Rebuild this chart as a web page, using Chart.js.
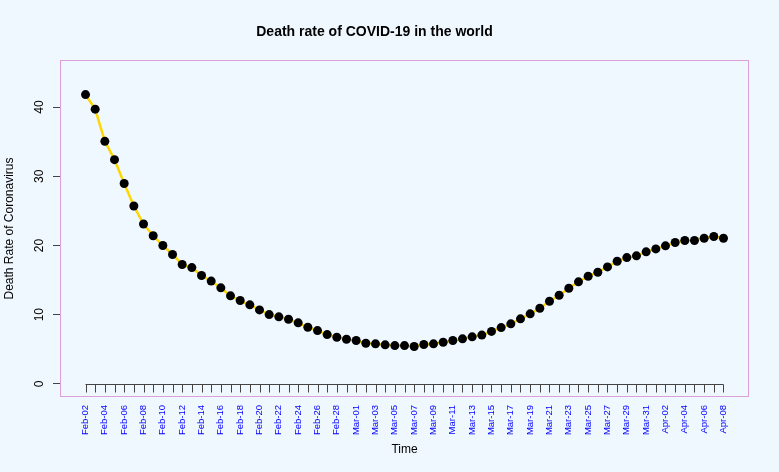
<!DOCTYPE html>
<html>
<head>
<meta charset="utf-8">
<script src="https://cdn.jsdelivr.net/npm/chart.js@4"></script>
<style>
  html, body { margin: 0; padding: 0; background: #F0F8FF; }
  canvas { display: block; }
</style>
</head>
<body>
<canvas id="myChart" width="779" height="472"></canvas>
<script>
const dates = [
  "Feb-02","Feb-03","Feb-04","Feb-05","Feb-06","Feb-07","Feb-08","Feb-09","Feb-10","Feb-11",
  "Feb-12","Feb-13","Feb-14","Feb-15","Feb-16","Feb-17","Feb-18","Feb-19","Feb-20","Feb-21",
  "Feb-22","Feb-23","Feb-24","Feb-25","Feb-26","Feb-27","Feb-28","Feb-29",
  "Mar-01","Mar-02","Mar-03","Mar-04","Mar-05","Mar-06","Mar-07","Mar-08","Mar-09","Mar-10",
  "Mar-11","Mar-12","Mar-13","Mar-14","Mar-15","Mar-16","Mar-17","Mar-18","Mar-19","Mar-20",
  "Mar-21","Mar-22","Mar-23","Mar-24","Mar-25","Mar-26","Mar-27","Mar-28","Mar-29","Mar-30",
  "Mar-31","Apr-01","Apr-02","Apr-03","Apr-04","Apr-05","Apr-06","Apr-07","Apr-08"
];

const deathRate = [
  41.8, 39.7, 35.05, 32.4, 28.95, 25.7, 23.1, 21.4, 20.0, 18.7,
  17.25, 16.8, 15.65, 14.85, 13.87, 12.72, 12.04, 11.42, 10.69, 10.01,
  9.68, 9.34, 8.82, 8.18, 7.70, 7.12, 6.73, 6.45,
  6.26, 5.87, 5.78, 5.64, 5.53, 5.53, 5.39, 5.68, 5.78, 6.01,
  6.26, 6.50, 6.79, 7.05, 7.58, 8.13, 8.67, 9.39, 10.12, 10.93,
  11.94, 12.80, 13.82, 14.74, 15.55, 16.13, 16.9, 17.72, 18.25, 18.5,
  19.08, 19.5, 19.94, 20.42, 20.71, 20.71, 21.04, 21.29, 21.04
];

const yTicks = [0, 10, 20, 30, 40];

Chart.defaults.font.family = "'Liberation Sans', Arial, sans-serif";
Chart.defaults.color = "#000";

// R-like extras: background, the time axis drawn at y = 0, plot box
const rStyle = {
  id: "rStyle",
  beforeDraw(chart) {
    const ctx = chart.ctx;
    ctx.save();
    ctx.fillStyle = "#F0F8FF";
    ctx.fillRect(0, 0, chart.width, chart.height);
    ctx.restore();
  },
  afterDraw(chart) {
    const ctx = chart.ctx;
    const x = chart.scales.x;
    const y = chart.scales.y;
    const y0 = Math.round(y.getPixelForValue(0)) + 0.5;
    ctx.save();
    ctx.strokeStyle = "#444";
    ctx.lineWidth = 1;
    ctx.beginPath();
    ctx.moveTo(x.getPixelForValue(0), y0);
    ctx.lineTo(x.getPixelForValue(dates.length - 1), y0);
    for (let i = 0; i < dates.length; i++) {
      const px = Math.round(x.getPixelForValue(i)) + 0.5;
      ctx.moveTo(px, y0);
      ctx.lineTo(px, y0 + 8);
    }
    ctx.stroke();

    const a = chart.chartArea;
    ctx.strokeStyle = "#DDA0DD";
    ctx.strokeRect(Math.round(a.left) + 0.5, Math.round(a.top) + 0.5,
      Math.round(a.right - a.left) - 1, Math.round(a.bottom - a.top) - 1);
    ctx.restore();
  }
};

new Chart(document.getElementById("myChart").getContext("2d"), {
  type: "line",
  data: {
    datasets: [{
      data: deathRate.map((v, i) => ({ x: i, y: v })),
      borderColor: "#FFD700",
      borderWidth: 2.5,
      tension: 0,
      pointRadius: 4.5,
      pointBackgroundColor: "#000",
      pointBorderColor: "#000",
      pointBorderWidth: 0
    }]
  },
  options: {
    responsive: false,
    animation: false,
    devicePixelRatio: 1,
    layout: { padding: { left: 0, right: 30, top: 0, bottom: 0 } },
    plugins: {
      legend: { display: false },
      tooltip: { enabled: false },
      title: {
        display: true,
        text: "Death rate of COVID-19 in the world",
        font: { size: 14, weight: "bold" },
        color: "#000",
        padding: { top: 23.6, bottom: 19.6 }
      }
    },
    scales: {
      x: {
        type: "linear",
        min: -2.64,
        max: dates.length - 1 + 2.64,
        afterBuildTicks(scale) {
          scale.ticks = dates.map((d, i) => ({ value: i }));
        },
        afterFit(scale) { scale.height = 75; },
        grid: { display: false, drawTicks: false },
        border: { display: false },
        ticks: {
          autoSkip: false,
          minRotation: 90,
          maxRotation: 90,
          padding: 8,
          color: "#0000FF",
          font: { size: 9.5 },
          callback: (v) => (v % 2 === 0 ? dates[v] : "")
        },
        title: {
          display: true,
          text: "Time",
          font: { size: 12 },
          color: "#000",
          padding: { top: 0, bottom: 14.8 }
        }
      },
      y: {
        min: -1.9,
        max: 46.8,
        afterBuildTicks(scale) {
          scale.ticks = yTicks.map(v => ({ value: v }));
        },
        afterFit(scale) { scale.width = 60; },
        grid: { drawOnChartArea: false, drawTicks: true, tickLength: 7, color: "#444" },
        border: { display: false },
        ticks: {
          minRotation: 90,
          maxRotation: 90,
          crossAlign: "center",
          padding: 6.3,
          color: "#000",
          font: { size: 12 }
        },
        title: {
          display: true,
          text: "Death Rate of Coronavirus",
          font: { size: 12 },
          color: "#000",
          padding: { top: 2.8, bottom: 0 }
        }
      }
    }
  },
  plugins: [rStyle]
});
</script>
</body>
</html>
